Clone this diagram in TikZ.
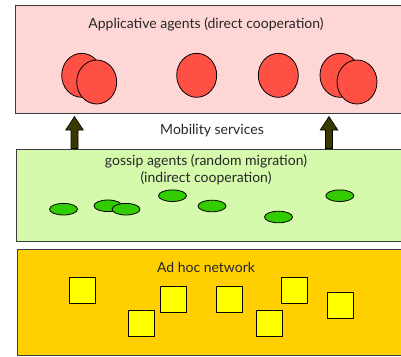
\documentclass[tikz,border=0pt]{standalone}
\usepackage{fontspec}
\setmainfont{Lato}
\definecolor{pinkbg}{RGB}{255,214,214}
\definecolor{greenbg}{RGB}{214,250,172}
\definecolor{goldbg}{RGB}{255,207,0}
\definecolor{agentred}{RGB}{255,80,70}
\definecolor{gossipgreen}{RGB}{51,204,0}
\definecolor{nodeyellow}{RGB}{255,255,0}
\definecolor{arrowolive}{RGB}{58,58,0}
\definecolor{framegray}{RGB}{60,60,60}
\tikzset{
  layer/.style={draw=framegray, line width=0.9pt},
  agent/.style={ellipse, draw=black, line width=0.8pt, fill=agentred, minimum width=40pt, minimum height=44pt, inner sep=0pt},
  gossip/.style={ellipse, draw=black, line width=0.8pt, fill=gossipgreen, minimum width=28pt, minimum height=11.6pt, inner sep=0pt},
  host/.style={rectangle, draw=black, line width=0.8pt, fill=nodeyellow, minimum size=26pt, inner sep=0pt},
  lbl/.style={font=\fontsize{14}{16.5}\selectfont, text=black!85, inner sep=0pt},
  uparrow/.style={fill=arrowolive, draw=black, line width=0.6pt},
}
\usetikzlibrary{shapes.geometric}
\begin{document}
\begin{tikzpicture}[x=1pt,y=-1pt]
\useasboundingbox (0,0) rectangle (401,356);
\clip (0,0) rectangle (401,356);
% layers
\draw[layer, fill=pinkbg] (15,5) rectangle (410,113);
\draw[layer, fill=greenbg] (16,149) rectangle (410,241);
\draw[layer, fill=goldbg] (17,249) rectangle (410,355);
% labels
\node[lbl] (t1) at (206,24) {Applicative agents (direct cooperation)};
\node[lbl] (t2) at (212,131) {Mobility services};
\node[lbl, align=center] (t3) at (206,170) {gossip agents (random migration)\\(indirect cooperation)};
\node[lbl] (t4) at (206,267) {Ad hoc network};
% arrows
\foreach \n/\x in {a1/74.5, a2/329} {
  \draw[uparrow] (\x-3.5,148.5) -- (\x-3.5,130) -- (\x-8.8,130) -- (\x,116.5) -- (\x+8.8,130) -- (\x+3.5,130) -- (\x+3.5,148.5) -- cycle;
}
% applicative agents
\node[agent] (c1a) at (81.7,75.3) {};
\node[agent] (c1b) at (96.7,82) {};
\node[agent] (c2) at (196.7,75.3) {};
\node[agent] (c3) at (278.3,75.3) {};
\node[agent] (c4a) at (340,75.3) {};
\node[agent] (c4b) at (357,82) {};
% gossip agents
\node[gossip] (g1) at (63.5,209.2) {};
\node[gossip] (g2) at (108,205.8) {};
\node[gossip] (g3) at (126,209.2) {};
\node[gossip] (g4) at (172.5,195.7) {};
\node[gossip] (g5) at (212,206) {};
\node[gossip] (g6) at (278.5,217) {};
\node[gossip] (g7) at (339.8,195.7) {};
% hosts
\node[host] (h1) at (82.5,290) {};
\node[host] (h2) at (141,323.8) {};
\node[host] (h3) at (173,299) {};
\node[host] (h4) at (229.7,299) {};
\node[host] (h5) at (269.3,323.8) {};
\node[host] (h6) at (294.7,290) {};
\node[host] (h7) at (340.3,305.3) {};
\end{tikzpicture}
\end{document}
